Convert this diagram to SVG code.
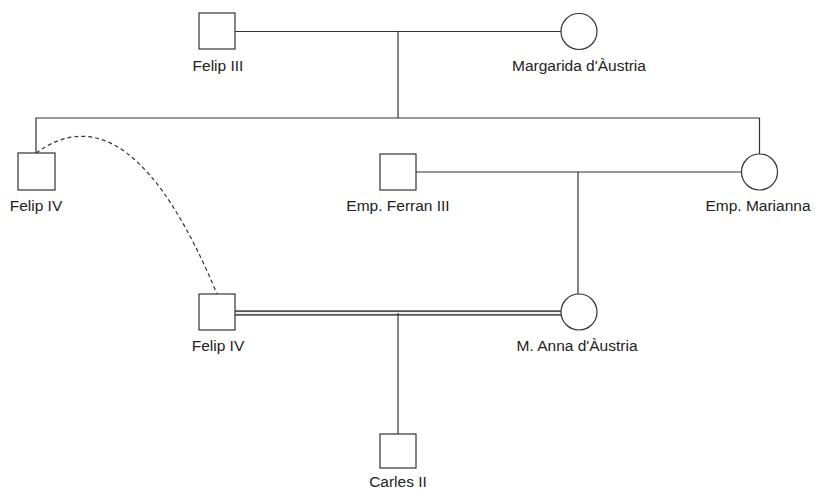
<svg xmlns="http://www.w3.org/2000/svg" width="815" height="491" viewBox="0 0 815 491">
<style>
.n{fill:#fff;stroke:#333;stroke-width:1.2}
.l{fill:none;stroke:#333;stroke-width:1.2}
.t{font-family:"Liberation Sans",Arial,sans-serif;font-size:15.5px;fill:#222;text-anchor:middle}
</style>
<rect width="815" height="491" fill="#fff"/>
<g id="connectors">
<path class="l" d="M235,31.5 H561"/>
<path class="l" d="M398,31.5 V118"/>
<path class="l" d="M36,153 V118 H759.5 V154"/>
<path class="l" d="M416,172 H741"/>
<path class="l" d="M578,172 V294"/>
<path d="M235,313 H561" fill="none" stroke="#555" stroke-width="5.5"/>
<path d="M235,313 H561" fill="none" stroke="#eee" stroke-width="2"/>
<path class="l" d="M398,313 V434"/>
<path class="l" d="M36,153 Q130,85 217,294" stroke-dasharray="4,3"/>
</g>
<g id="felip3"><rect class="n" x="199" y="13" width="36" height="36"/><text class="t" x="218" y="71">Felip III</text></g>
<g id="margarida"><circle class="n" cx="579" cy="31.5" r="18"/><text class="t" x="579" y="71">Margarida d'Àustria</text></g>
<g id="felip4a"><rect class="n" x="18" y="153" width="37" height="37"/><text class="t" x="36" y="211">Felip IV</text></g>
<g id="ferran3"><rect class="n" x="380" y="154" width="36" height="36"/><text class="t" x="398" y="211">Emp. Ferran III</text></g>
<g id="marianna"><circle class="n" cx="759.5" cy="172" r="18"/><text class="t" x="758" y="211">Emp. Marianna</text></g>
<g id="felip4b"><rect class="n" x="199" y="294" width="36" height="36"/><text class="t" x="218" y="351">Felip IV</text></g>
<g id="manna"><circle class="n" cx="579" cy="312" r="18"/><text class="t" x="577" y="351">M. Anna d'Àustria</text></g>
<g id="carles2"><rect class="n" x="380" y="434" width="36" height="34"/><text class="t" x="398" y="487">Carles II</text></g>
</svg>
